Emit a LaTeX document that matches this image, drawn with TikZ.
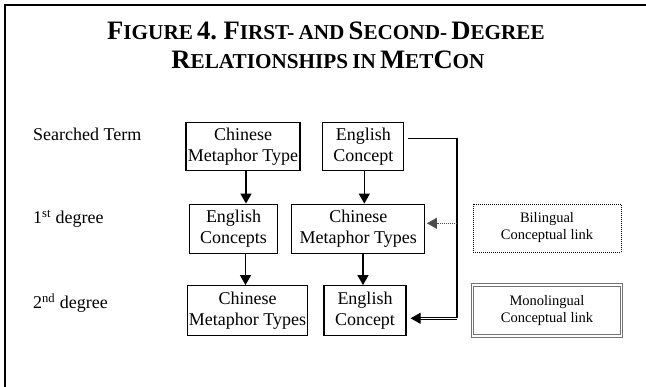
\documentclass[tikz,border=0pt]{standalone}
\usepackage{fontspec}
\setmainfont{Liberation Serif}
\usetikzlibrary{arrows.meta,positioning}

% capital letter of the fake small caps
\newcommand{\tcap}[1]{{\fontsize{26.6}{30}\selectfont #1}}
\newcommand{\titlefont}{\bfseries\fontsize{21.2}{24}\selectfont\spaceskip=4.2pt\relax}

\begin{document}
\begin{tikzpicture}[x=1pt,y=-1pt,
  termbox/.style={draw,line width=1.2pt,inner sep=0pt,align=center,font=\fontsize{18}{21}\selectfont},
  keybox/.style={inner sep=0pt,align=center,font=\fontsize{14.5}{17}\selectfont},
  rowlabel/.style={anchor=base west,inner sep=0pt,font=\fontsize{18}{21}\selectfont},
  titleline/.style={anchor=base,inner sep=0pt,font=\titlefont},
  link/.style={line width=1.3pt,-{Triangle[length=10pt,width=11pt]}}]

\useasboundingbox (0,0) rectangle (646,387);

% Frame
\draw[line width=2.2pt] (5,387) -- (5,5) -- (646,5);

% Title
\node[titleline] (title1) at (326,39.3) {\tcap{F}IGURE \tcap{4. F}IRST- AND \tcap{S}ECOND- \tcap{D}EGREE};
\node[titleline] (title2) at (328,68.3) {\tcap{R}ELATIONSHIPS IN \tcap{M}ET\tcap{C}ON};

% Row labels
\node[rowlabel] (rowsearch) at (33,140.7) {Searched Term};
\node[rowlabel] (rowfirst) at (33,224) {1\textsuperscript{st} degree};
\node[rowlabel] (rowsecond) at (33,308.3) {2\textsuperscript{nd} degree};

% Searched terms
\node[termbox,minimum width=114pt,minimum height=48pt] (srcCMT) at (243,146.5) {Chinese\\Metaphor Type};
\node[termbox,minimum width=81pt,minimum height=48pt] (srcEC) at (363.3,146.5) {English\\Concept};

% First degree
\node[termbox,minimum width=88pt,minimum height=49pt] (fstEC) at (233.5,228.7) {English\\Concepts};
\node[termbox,minimum width=133pt,minimum height=49pt] (fstCMT) at (358.3,228.7) {Chinese\\Metaphor Types};

% Second degree
\node[termbox,minimum width=120pt,minimum height=50pt] (scdCMT) at (247.5,310.7) {Chinese\\Metaphor Types};
\node[termbox,minimum width=82pt,minimum height=50pt] (scdEC) at (365,310.7) {English\\Concept};

% Vertical links
\draw[link] ([xshift=3pt]srcCMT.south) -- ([xshift=3pt]srcCMT.south |- fstEC.north);
\draw[link] ([xshift=1pt]srcEC.south) -- ([xshift=1pt]srcEC.south |- fstCMT.north);
\draw[link] ([xshift=12pt]fstEC.south) -- ([xshift=12pt]fstEC.south |- scdCMT.north);
\draw[link] ([xshift=4.7pt]fstCMT.south) -- ([xshift=4.7pt]fstCMT.south |- scdEC.north);

% Rail on the right
\coordinate (railmid) at (457,223.3);
\coordinate (railbot) at (457,318.3);
\draw[line width=1.3pt] ([xshift=4pt,yshift=8pt]srcEC.east) -| (railbot);
\draw[link,dash pattern=on 1pt off 1pt,line width=0.9pt,draw=black!70] (railmid) -- ([xshift=1.5pt]fstCMT.east |- railmid);
\draw[link,double,line width=0.8pt,double distance=1.4pt] (railbot) -- ([xshift=4pt]scdEC.east |- railbot);

% Legend
\node[keybox,draw,dash pattern=on 1pt off 1pt,line width=0.9pt,minimum width=148pt,minimum height=48pt] (bilink) at (547,228) {Bilingual\\Conceptual link};
\node[keybox,draw=black!55,double,double distance=1.2pt,line width=1.1pt,minimum width=149pt,minimum height=51pt] (monolink) at (547,310.5) {Monolingual\\Conceptual link};

\end{tikzpicture}
\end{document}
